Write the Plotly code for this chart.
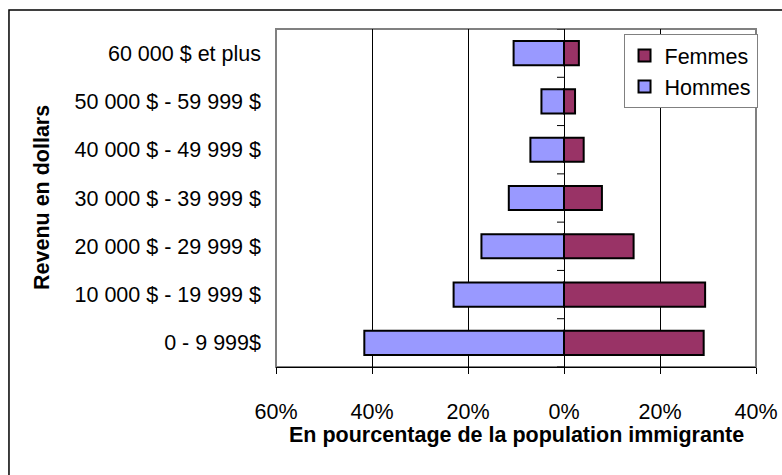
import plotly.graph_objects as go

categories = ["0 - 9 999$", "10 000 $ - 19 999 $", "20 000 $ - 29 999 $",
              "30 000 $ - 39 999 $", "40 000 $ - 49 999 $", "50 000 $ - 59 999 $",
              "60 000 $ et plus"]
hommes = [41.6, 23.0, 17.2, 11.5, 7.0, 4.7, 10.5]
femmes = [29.1, 29.4, 14.5, 7.9, 4.1, 2.3, 3.1]
x_tickvals = [-60, -40, -20, 0, 20, 40]
x_ticktext = ["60%", "40%", "20%", "0%", "20%", "40%"]

FONT = "Liberation Sans, Arial, sans-serif"
FS = 21.5

fig = go.Figure()
fig.add_trace(go.Bar(
    y=categories, x=femmes, orientation="h", name="Femmes",
    marker=dict(color="#993366", line=dict(color="black", width=2)),
    width=0.5, legendgroup="f"))
fig.add_trace(go.Bar(
    y=categories, x=[-v for v in hommes], orientation="h", name="Hommes",
    marker=dict(color="#9999FF", line=dict(color="black", width=2)),
    width=0.5, legendgroup="h"))

shapes = []
# plot area border (gray)
shapes.append(dict(type="rect", xref="paper", yref="paper", x0=0, x1=1, y0=0, y1=1,
                   line=dict(color="#808080", width=2), layer="below"))
# outer chart frame
shapes.append(dict(type="rect", xref="paper", yref="paper",
                   x0=-0.5563, x1=1.3, y0=-0.5, y1=1.0562,
                   line=dict(color="black", width=1.5), layer="below"))
# minor ticks on the zero axis at category boundaries
for k in range(len(categories) + 1):
    shapes.append(dict(type="line", xref="x", yref="y", xsizemode="pixel", xanchor=0,
                       x0=-7, x1=0, y0=k - 0.5, y1=k - 0.5,
                       line=dict(color="black", width=1)))

fig.update_layout(
    width=782, height=475,
    margin=dict(l=276, r=26, t=29, b=108, autoexpand=False),
    paper_bgcolor="white", plot_bgcolor="white",
    barmode="relative",
    font=dict(family=FONT, size=FS, color="black"),
    showlegend=True,
    legend=dict(x=0.724, y=0.985, xanchor="left", yanchor="top",
                bgcolor="white", bordercolor="#808080", borderwidth=1,
                font=dict(size=FS), traceorder="normal", tracegroupgap=5,
                itemwidth=30),
    shapes=shapes,
    annotations=[
        dict(text="<b>En pourcentage de la population immigrante</b>",
             xref="paper", yref="paper", x=0.5, y=-0.2,
             xanchor="center", yanchor="middle", showarrow=False,
             font=dict(size=FS)),
        dict(text="<b>Revenu en dollars</b>", xref="paper", yref="paper",
             x=-0.4875, y=0.5, xanchor="center", yanchor="middle",
             textangle=-90, showarrow=False, font=dict(size=FS)),
    ],
)
fig.update_xaxes(range=[-60, 40], tickvals=x_tickvals, ticktext=x_ticktext,
                 showgrid=True, gridcolor="black", gridwidth=1,
                 zeroline=True, zerolinecolor="black", zerolinewidth=1,
                 showline=True, linecolor="black", linewidth=1,
                 ticks="outside", ticklen=6, tickcolor="black",
                 ticklabelstandoff=19, automargin=False, fixedrange=True)
fig.update_yaxes(type="category", categoryorder="array", categoryarray=categories,
                 range=[-0.5, len(categories) - 0.5], showgrid=False,
                 zeroline=False, showline=False, ticks="",
                 ticklabelstandoff=14, automargin=False, fixedrange=True)

fig.write_html("out.html", config={"displayModeBar": False},
               post_script="document.body.style.margin='0px';document.body.style.overflow='hidden';")
